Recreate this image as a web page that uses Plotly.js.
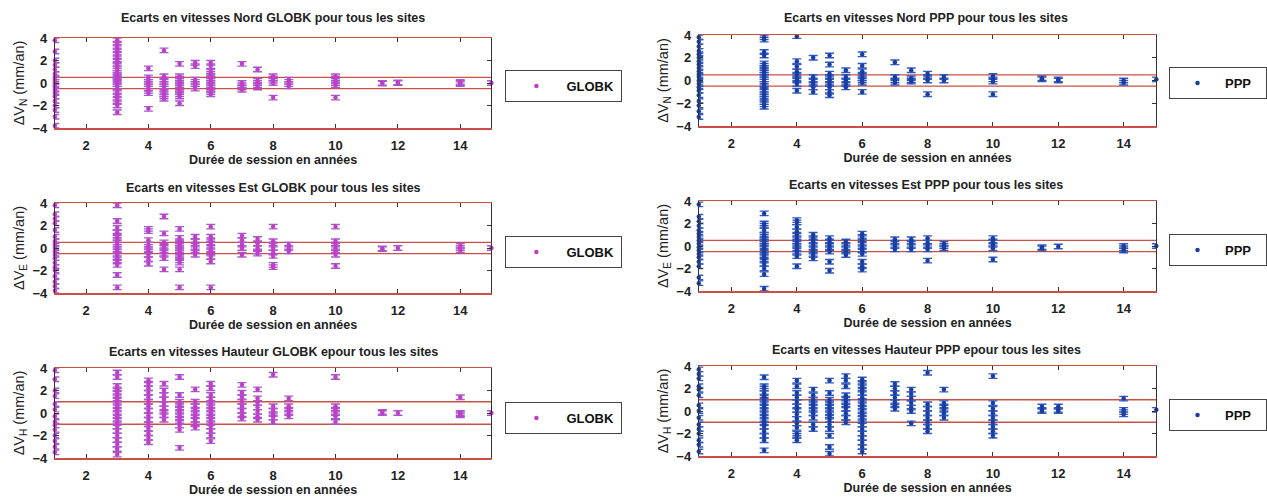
<!DOCTYPE html>
<html><head><meta charset="utf-8">
<script src="https://cdn.plot.ly/plotly-3.0.1.min.js"></script>
<style>html,body{margin:0;padding:0;background:#fff}#chart{width:1267px;height:502px}</style>
</head><body><div id="chart"></div>
<script>
// Session durations (years) - one group of points per duration
const durations = [1,3,4,4.5,5,5.5,6,7,7.5,8,8.5,10,11.5,12,14,15];

// Velocity differences (mm/an), one sub-array per duration
const globkN = [
 [3.8,2.8,2.0,1.6,1.2,0.8,0.5,0.3,0.1,-0.1,-0.3,-0.6,-0.9,-1.2,-1.6,-2.0,-2.4,-3.0,-3.8],
 [3.8,3.5,3.2,2.9,2.6,2.3,2.0,1.7,1.5,1.3,1.1,0.9,0.7,0.55,0.4,0.25,0.1,-0.1,-0.3,-0.5,-0.8,-1.1,-1.4,-1.7,-2.0,-2.6],
 [1.3,0.5,0.3,0.1,-0.1,-0.3,-0.5,-0.7,-0.9,-2.3],
 [2.9,0.6,0.3,0.1,-0.1,-0.3,-0.5,-0.8,-1.0,-1.2,-1.4],
 [1.7,0.6,0.4,0.2,0.0,-0.2,-0.4,-0.6,-0.8,-1.0,-1.2,-1.8],
 [1.8,1.5,0.3,0.1,-0.1,-0.3,-0.5],
 [1.8,1.5,1.0,0.8,0.6,0.4,0.2,0.0,-0.2,-0.4,-0.6,-0.8,-1.0],
 [1.7,0.0,-0.2,-0.4,-0.6],
 [1.2,0.2,0.0,-0.2,-0.4],
 [0.6,0.4,0.2,0.0,-1.3],
 [0.3,0.1,-0.1,-0.3],
 [0.6,0.4,0.2,0.0,-0.2,-1.3],
 [0.0,-0.05],
 [0.0,0.05],
 [0.1,0.0,-0.1],
 [0.0]
];
const globkE = [
 [3.8,3.0,2.6,2.2,1.6,1.0,0.6,0.3,0.0,-0.3,-0.6,-0.9,-1.3,-1.7,-2.0,-2.5,-3.0,-3.4,-3.8],
 [3.8,2.4,1.8,1.4,1.1,0.9,0.7,0.5,0.3,0.1,-0.1,-0.3,-0.6,-0.9,-1.2,-1.5,-2.4,-3.5],
 [1.7,1.5,0.7,0.3,0.1,-0.1,-0.3,-0.6,-1.0,-1.4],
 [2.8,1.3,0.5,0.2,0.0,-0.3,-0.6,-0.9,-1.9],
 [1.7,0.9,0.6,0.4,0.2,0.0,-0.2,-0.4,-0.6,-0.8,-1.1,-1.3,-1.9,-3.5],
 [1.0,0.6,0.3,0.0,-0.3,-0.6],
 [1.9,1.0,0.7,0.4,0.1,-0.2,-0.5,-0.8,-1.2,-3.5],
 [1.1,0.7,0.3,0.0,-0.6],
 [0.8,0.4,0.0,-0.3,-0.5],
 [1.9,0.6,0.3,0.0,-0.4,-0.7,-1.5,-1.7],
 [0.3,0.0,-0.3],
 [1.9,0.6,0.3,0.0,-0.3,-0.6,-1.6],
 [-0.05,-0.1],
 [0.0],
 [0.2,0.0,-0.2],
 [0.0]
];
const globkH = [
 [3.8,3.0,2.0,1.5,0.8,0.3,-0.3,-0.8,-1.1,-1.5,-2.0,-2.5,-3.0,-3.5],
 [3.6,3.2,2.4,2.1,1.8,1.5,1.2,0.9,0.6,0.3,0.0,-0.3,-0.6,-0.9,-1.2,-1.6,-2.0,-2.4,-2.8,-3.2,-3.7],
 [2.9,2.6,2.2,1.8,1.4,1.0,0.6,0.2,-0.2,-0.6,-1.0,-1.4,-1.8,-2.2,-2.6],
 [2.6,2.0,1.6,1.2,0.8,0.4,0.1,-0.2,-0.6],
 [3.2,1.6,1.0,0.7,0.4,0.1,-0.2,-0.5,-0.8,-1.1,-1.5,-3.1],
 [2.1,1.0,0.6,0.3,0.0,-0.3,-0.6,-1.0,-1.3],
 [2.6,2.2,1.6,1.2,0.9,0.6,0.3,0.0,-0.3,-0.6,-0.9,-1.2,-1.6,-2.0,-2.5],
 [2.5,1.8,1.4,1.0,0.6,0.2,-0.2,-0.5],
 [2.1,1.3,0.9,0.5,0.1,-0.3,-0.6],
 [3.4,0.6,0.2,-0.1,-0.4,-0.8],
 [1.3,0.6,0.3,0.0,-0.3],
 [3.2,0.6,0.3,0.0,-0.3,-0.8],
 [0.1,0.0],
 [0.0],
 [1.4,0.0,-0.1,-0.2],
 [0.0]
];
const pppN = [
 [3.8,3.4,3.0,2.6,2.3,2.0,1.7,1.4,1.1,0.8,0.5,0.3,0.0,-0.3,-0.6,-0.9,-1.3,-1.8,-2.2,-2.7,-3.2],
 [3.8,3.6,2.5,2.2,1.5,1.3,1.1,0.9,0.7,0.5,0.3,0.1,-0.1,-0.3,-0.5,-0.8,-1.0,-1.2,-1.4,-1.6,-1.9,-2.1,-2.3],
 [3.9,1.7,1.2,0.8,0.5,0.2,0.0,-0.3,-0.9],
 [2.0,0.3,0.0,-0.3,-0.6,-1.0],
 [2.2,1.4,0.6,0.3,0.0,-0.3,-0.6,-1.0,-1.3],
 [0.9,0.3,0.0,-0.3,-0.6],
 [2.3,1.3,0.8,0.5,0.2,0.0,-0.2,-1.0],
 [1.6,0.3,0.0,-0.2],
 [0.9,0.2,0.0,-0.1],
 [0.6,0.3,0.0,-1.2],
 [0.3,0.0],
 [0.4,0.1,-0.1,-1.2],
 [0.2,0.1],
 [0.1,0.0],
 [0.0,-0.2],
 [0.1]
];
const pppE = [
 [3.7,2.6,2.2,1.8,1.4,1.1,0.8,0.5,0.2,-0.1,-0.4,-0.7,-1.0,-1.4,-1.8,-2.8,-3.3],
 [2.9,2.0,1.8,1.4,1.0,0.8,0.6,0.4,0.2,0.0,-0.2,-0.5,-0.8,-1.0,-1.3,-1.6,-2.0,-2.5,-3.8],
 [2.3,2.1,1.7,1.3,1.0,0.7,0.4,0.2,0.0,-0.3,-0.6,-0.9,-1.8],
 [1.0,0.7,0.4,0.1,-0.2,-0.5,-0.8,-1.1],
 [0.7,0.4,0.1,-0.2,-0.5,-1.4,-2.2],
 [0.4,0.1,-0.2,-0.5,-0.8],
 [1.1,0.8,0.5,0.2,-0.1,-0.4,-0.7,-1.4,-1.8,-2.1],
 [0.6,0.3,0.0,-0.3],
 [0.6,0.3,0.0,-0.3],
 [0.7,0.3,0.0,-0.3,-1.3],
 [0.2,0.0,-0.2],
 [0.7,0.4,0.1,-0.2,-1.2],
 [-0.1,-0.2],
 [-0.05],
 [0.0,-0.2,-0.4],
 [0.0]
];
const pppH = [
 [3.7,3.3,2.9,2.2,1.9,1.4,0.5,0.0,-0.6,-1.2,-1.6,-2.0,-2.6,-3.0,-3.6],
 [3.0,2.2,2.0,1.6,1.3,1.0,0.7,0.4,0.1,-0.2,-0.5,-0.8,-1.1,-1.4,-1.8,-2.2,-2.6,-3.5],
 [2.7,2.2,1.6,1.2,0.8,0.4,0.1,-0.3,-0.7,-1.1,-1.5,-2.0,-2.2,-2.6],
 [1.9,1.4,1.0,0.7,0.4,0.1,-0.2,-0.6,-1.2,-1.6],
 [2.7,1.6,1.0,0.7,0.4,0.1,-0.2,-0.5,-0.8,-1.2,-1.6,-2.2,-3.2,-3.8],
 [3.1,2.7,2.2,1.4,1.1,0.8,0.5,0.2,-0.2,-0.6,-1.0],
 [2.8,2.5,2.2,1.9,1.6,1.2,0.9,0.6,0.3,0.0,-0.3,-0.6,-0.9,-1.2,-1.6,-2.0,-2.4,-2.8,-3.2,-3.6],
 [2.4,2.0,1.6,1.2,0.8,0.5,0.2],
 [1.9,1.5,1.1,0.7,0.3,0.0,-1.1],
 [3.4,0.6,0.2,-0.2,-0.6,-1.0,-1.4,-1.8],
 [1.9,0.7,0.4,0.1,-0.2,-0.6],
 [3.1,0.7,0.2,-0.2,-0.6,-1.0,-1.4,-1.8,-2.2],
 [0.4,0.1,0.0],
 [0.4,0.1,0.0],
 [1.1,0.1,-0.1,-0.3],
 [0.1]
];
const errorValue = 0.2;                 // half-length of the error bars (mm/an)
const thresholds = [0.5, 0.5, 1.0, 0.5, 0.5, 1.0];  // +/- reference lines
const seriesNames = ['GLOBK','GLOBK','GLOBK','PPP','PPP','PPP'];
const panelTitles = [
 'Ecarts en vitesses Nord GLOBK pour tous les sites',
 'Ecarts en vitesses Est GLOBK pour tous les sites',
 'Ecarts en vitesses Hauteur GLOBK epour tous les sites',
 'Ecarts en vitesses Nord PPP pour tous les sites',
 'Ecarts en vitesses Est PPP pour tous les sites',
 'Ecarts en vitesses Hauteur PPP epour tous les sites'
];
const yTitles = ['ΔV<sub>N</sub> (mm/an)','ΔV<sub>E</sub> (mm/an)','ΔV<sub>H</sub> (mm/an)',
                 'ΔV<sub>N</sub> (mm/an)','ΔV<sub>E</sub> (mm/an)','ΔV<sub>H</sub> (mm/an)'];
const xTitle = 'Durée de session en années';
const xTicks = [2,4,6,8,10,12,14];
const yTicks = [-4,-2,0,2,4];

const panelData = [globkN, globkE, globkH, pppN, pppE, pppH];

// ---- geometry (pixels in a 1267x502 figure) ----
const W = 1267, H = 502;
const px = (a,b)=>[a/W, b/W];
const py = (top,bottom)=>[1-bottom/H, 1-top/H];
const geom = [
 {x:px(55,493),  y:py(38,128),  title:[274,18],  leg:[507,70]},
 {x:px(55,493),  y:py(203,293), title:[274,188], leg:[507,236]},
 {x:px(55,493),  y:py(368,458), title:[274,352], leg:[507,402]},
 {x:px(701,1160),y:py(35,126),  title:[929,18],  leg:[1173,67]},
 {x:px(701,1160),y:py(201,291), title:[929,185], leg:[1173,234]},
 {x:px(701,1160),y:py(366,456), title:[929,350], leg:[1173,399]}
];
const styles = {
 GLOBK:{marker:'#c23ec4', err:'#a35ad0'},
 PPP:{marker:'#1c3c9e', err:'#2e5cc4'}
};
const FONT = 'Liberation Sans, Arial, sans-serif';

const traces = [], layout = {
  width:W, height:H, margin:{l:0,r:0,t:0,b:0}, showlegend:true,
  paper_bgcolor:'#fff', plot_bgcolor:'#fff',
  font:{family:FONT, color:'#222'},
  shapes:[], annotations:[]
};

panelData.forEach((groups, i) => {
  const n = i+1, sx = n===1?'':String(n);
  const xs = [], ys = [];
  groups.forEach((vals, g) => vals.forEach(v => { xs.push(durations[g]); ys.push(v); }));
  const st = styles[seriesNames[i]];
  traces.push({
    type:'scatter', mode:'markers', x:xs, y:ys, name:seriesNames[i], showlegend:true,
    xaxis:'x'+sx, yaxis:'y'+sx, legend:'legend'+sx, cliponaxis:false,
    marker:{color:st.marker, size:4.5},
    error_y:{type:'constant', value:errorValue, color:st.err, thickness:1.4, width:4.5}
  });
  const g = geom[i];
  layout['xaxis'+sx] = {
    domain:g.x, anchor:'y'+sx, range:[1,15], tickvals:xTicks,
    ticks:'inside', ticklen:4, tickcolor:'#333', showline:true, linecolor:'#c8504a', linewidth:1.5,
    mirror:'ticks', showgrid:false, zeroline:false, automargin:false, ticklabelstandoff:5,
    tickfont:{family:FONT, size:13, weight:'bold', color:'#222'},
    title:{text:xTitle, font:{family:FONT, size:12.5, weight:'bold', color:'#222'}, standoff:3}
  };
  layout['yaxis'+sx] = {
    domain:g.y, anchor:'x'+sx, range:[-4,4], tickvals:yTicks,
    ticks:'inside', ticklen:4, tickcolor:'#333', showline:true, linecolor:'#333', linewidth:1,
    mirror:'ticks', showgrid:false, zeroline:false, automargin:false, ticklabelstandoff:4,
    tickfont:{family:FONT, size:13, weight:'bold', color:'#222'},
    title:{text:yTitles[i], font:{family:FONT, size:14.5, color:'#222'}, standoff:4}
  };
  [thresholds[i], -thresholds[i]].forEach(t => layout.shapes.push({
    type:'line', xref:'x'+sx, yref:'y'+sx, x0:1, x1:15, y0:t, y1:t,
    line:{color:'#c8504a', width:1.3}, layer:'below'
  }));
  layout.annotations.push({
    text:panelTitles[i], xref:'paper', yref:'paper', x:g.title[0]/W, y:1-g.title[1]/H,
    xanchor:'center', yanchor:'middle', showarrow:false,
    font:{family:FONT, size:12.5, weight:'bold', color:'#222'}
  });
  layout['legend'+sx] = {
    x:g.leg[0]/W, y:1-g.leg[1]/H, xanchor:'left', yanchor:'top',
    bgcolor:'#fff', bordercolor:'#444', borderwidth:1,
    font:{family:FONT, size:13, weight:'bold', color:'#111'},
    orientation:'h', entrywidth: i<3 ? 50 : 36, itemwidth: i<3 ? 50 : 45
  };
});

Plotly.newPlot('chart', traces, layout, {displayModeBar:false, staticPlot:true});
</script>
</body></html>
